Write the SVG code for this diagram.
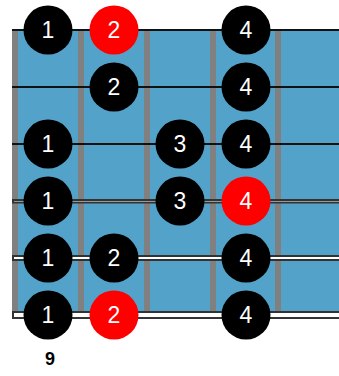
<svg xmlns="http://www.w3.org/2000/svg" width="339" height="376" viewBox="0 0 339 376">
<style>
.fret{fill:#808080}
.plain{stroke:#111;stroke-width:2}
.wound{fill:#fff;stroke:#333;stroke-width:2}
.dot circle{fill:#000}
.dot.r circle{fill:#ff0000}
.dot text{fill:#fff;font-family:"Liberation Sans",Arial,sans-serif;font-size:23px;text-anchor:middle}
.lbl{fill:#000;font-family:"Liberation Sans",Arial,sans-serif;font-size:18px;font-weight:bold;text-anchor:middle}
</style>
<rect x="12" y="30" width="327" height="284" fill="#53a2c9"/>
<g id="frets">
<rect class="fret" x="12" y="30" width="6" height="284"/>
<rect class="fret" x="78" y="30" width="6" height="284"/>
<rect class="fret" x="144" y="30" width="6" height="284"/>
<rect class="fret" x="210" y="30" width="6" height="284"/>
<rect class="fret" x="275" y="30" width="6" height="284"/>
</g>
<g id="strings">
<line class="plain" x1="12" y1="30" x2="339" y2="30"/>
<line class="plain" x1="12" y1="87" x2="339" y2="87"/>
<line class="plain" x1="12" y1="144" x2="339" y2="144"/>
<rect class="wound" x="13" y="200" width="328" height="2.5"/>
<rect class="wound" x="13" y="256" width="328" height="4"/>
<rect class="wound" x="13" y="312" width="328" height="6"/>
</g>
<g id="n1" class="dot"><circle cx="48" cy="30" r="24.5"/><text x="48" y="38">1</text></g>
<g id="n2" class="dot r"><circle cx="114" cy="30" r="24.5"/><text x="114" y="38">2</text></g>
<g id="n3" class="dot"><circle cx="246" cy="30" r="24.5"/><text x="246" y="38">4</text></g>
<g id="n4" class="dot"><circle cx="114" cy="87" r="24.5"/><text x="114" y="95">2</text></g>
<g id="n5" class="dot"><circle cx="246" cy="87" r="24.5"/><text x="246" y="95">4</text></g>
<g id="n6" class="dot"><circle cx="48" cy="144" r="24.5"/><text x="48" y="152">1</text></g>
<g id="n7" class="dot"><circle cx="180" cy="144" r="24.5"/><text x="180" y="152">3</text></g>
<g id="n8" class="dot"><circle cx="246" cy="144" r="24.5"/><text x="246" y="152">4</text></g>
<g id="n9" class="dot"><circle cx="48" cy="201" r="24.5"/><text x="48" y="209">1</text></g>
<g id="n10" class="dot"><circle cx="180" cy="201" r="24.5"/><text x="180" y="209">3</text></g>
<g id="n11" class="dot r"><circle cx="246" cy="201" r="24.5"/><text x="246" y="209">4</text></g>
<g id="n12" class="dot"><circle cx="48" cy="258" r="24.5"/><text x="48" y="266">1</text></g>
<g id="n13" class="dot"><circle cx="114" cy="258" r="24.5"/><text x="114" y="266">2</text></g>
<g id="n14" class="dot"><circle cx="246" cy="258" r="24.5"/><text x="246" y="266">4</text></g>
<g id="n15" class="dot"><circle cx="48" cy="315" r="24.5"/><text x="48" y="323">1</text></g>
<g id="n16" class="dot r"><circle cx="114" cy="315" r="24.5"/><text x="114" y="323">2</text></g>
<g id="n17" class="dot"><circle cx="246" cy="315" r="24.5"/><text x="246" y="323">4</text></g>
<text class="lbl" x="50" y="365">9</text>
</svg>
